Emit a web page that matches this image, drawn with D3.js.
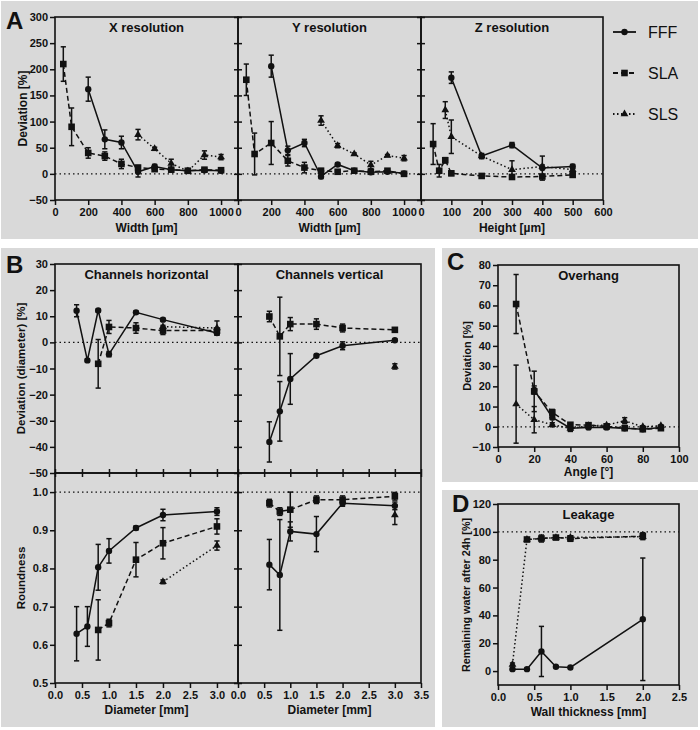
<!DOCTYPE html>
<html><head><meta charset="utf-8">
<script src="https://cdn.jsdelivr.net/npm/d3@7"></script>
<style>
body{margin:0;background:#fff}
text{font-family:"Liberation Sans",Arial,sans-serif;fill:#111}
</style>
</head><body><svg id="c" width="700" height="730"></svg>
<script>
// ---------------- DATA ----------------
const seriesNames = ["FFF", "SLA", "SLS"];
// each row: [x, mean, error]
// A: X resolution (width µm, deviation %)
const xResFFF = [[200,162,23],[300,66,18],[400,60,12],[500,4,10],[600,14,4],[700,8,3],[800,6,3],[900,7,3],[1000,6,2]];
const xResSLA = [[50,210,33],[100,90,36],[200,40,10],[300,34,8],[400,19,9],[500,12,4],[600,9,3],[700,8,3],[800,6,3],[900,8,3],[1000,7,2]];
const xResSLS = [[500,75,10],[600,48,3],[700,20,8],[800,5,4],[900,36,8],[1000,32,5]];
// A: Y resolution
const yResFFF = [[200,206,21],[300,45,8],[400,59,7],[500,-5,4],[600,18,3],[700,6,3],[800,3,2],[900,4,2],[1000,1,2]];
const yResSLA = [[50,180,30],[100,38,40],[200,59,41],[300,25,10],[400,12,10],[500,6,4],[600,4,2],[700,6,3],[800,4,2],[900,6,3],[1000,0,3]];
const yResSLS = [[500,102,9],[600,54,4],[700,38,2],[800,17,7],[900,35,2],[1000,30,5]];
// A: Z resolution (height µm)
const zResFFF = [[100,184,11],[200,34,5],[300,55,5],[400,11,23],[500,14,4]];
const zResSLA = [[40,57,39],[60,6,12],[80,26,5],[100,1,4],[200,-4,2],[300,-6,2],[400,-5,2],[500,-2,4]];
const zResSLS = [[80,122,16],[100,71,32],[200,34,4],[300,8,17],[400,14,3],[500,8,2]];
// B: channels horizontal, deviation (diameter) %
const hDevFFF = [[0.4,12.1,2.3],[0.6,-6.9,0.5],[0.8,12.2,0.5],[1.0,-4.5,1],[1.5,11.5,0.5],[2.0,8.7,0.5],[3.0,3.6,0.8]];
const hDevSLA = [[0.8,-8.2,9.3],[1.0,5.9,2.5],[1.5,5.5,2],[2.0,4.5,1.5],[3.0,4.5,1]];
const hDevSLS = [[2.0,6,0.5],[3.0,5.5,2.7]];
// B: channels vertical, deviation
const vDevFFF = [[0.6,-38.1,7.7],[0.8,-26.4,11.4],[1.0,-14.0,9.7],[1.5,-5.1,0.5],[2.0,-1.3,1.5],[3.0,0.8,0.5]];
const vDevSLA = [[0.6,9.9,2],[0.8,2.3,15],[1.0,7.0,2.5],[1.5,7.0,2],[2.0,5.5,1.5],[3.0,4.8,0.5]];
const vDevSLS = [[3.0,-9.2,1]];
// B: roundness horizontal
const hRndFFF = [[0.4,0.629,0.071],[0.6,0.648,0.052],[0.8,0.803,0.06],[1.0,0.846,0.032],[1.5,0.906,0.005],[2.0,0.940,0.015],[3.0,0.949,0.01]];
const hRndSLA = [[0.8,0.639,0.079],[1.0,0.657,0.01],[1.5,0.823,0.045],[2.0,0.866,0.041],[3.0,0.910,0.02]];
const hRndSLS = [[2.0,0.765,0.005],[3.0,0.860,0.012]];
// B: roundness vertical
const vRndFFF = [[0.6,0.810,0.066],[0.8,0.783,0.145],[1.0,0.897,0.025],[1.5,0.890,0.046],[2.0,0.971,0.008],[3.0,0.964,0.01]];
const vRndSLA = [[0.6,0.971,0.01],[0.8,0.949,0.01],[1.0,0.954,0.046],[1.5,0.980,0.01],[2.0,0.980,0.01],[3.0,0.989,0.01]];
const vRndSLS = [[3.0,0.940,0.025]];
// C: overhang (angle °, deviation %)
const ovhFFF = [[20,18.2,2],[30,4.6,1],[40,-0.7,1.5],[50,-0.3,1],[60,-0.3,1],[70,-0.7,1],[80,-1.2,1],[90,-0.3,1]];
const ovhSLA = [[10,60.7,14.6],[20,17.5,10],[30,7.1,1.5],[40,1.0,1],[50,0.8,1],[60,0.2,1],[70,-0.7,1],[80,-1.2,1],[90,-0.7,1]];
const ovhSLS = [[10,11.2,19.3],[20,3.5,6.5],[30,1.0,1],[40,-0.8,1.5],[50,0.5,1],[60,0.8,0.5],[70,3.0,1.5],[80,0,0.5],[90,0.5,0.5]];
// D: leakage (wall thickness mm, remaining water %)
const leakFFF = [[0.2,1.4,0.5],[0.4,1.4,0.5],[0.6,14.1,18],[0.8,3.1,0.5],[1.0,2.6,0.5],[2.0,37.2,44]];
const leakSLA = [[0.4,94.5,1],[0.6,95.2,2.5],[0.8,95.9,1],[1.0,95.2,2],[2.0,96.9,2.5]];
const leakSLS = [[0.2,4.8,1],[0.4,94.5,1],[0.6,95.5,1],[0.8,95.7,1],[1.0,96,1],[2.0,96.5,1]];

// tick values
const aYTicks = [-50,0,50,100,150,200,250,300];
const aWidthTicks = [0,200,400,600,800,1000];
const aHeightTicks = [0,100,200,300,400,500,600];
const bDevTicks = [-50,-40,-30,-20,-10,0,10,20,30];
const bRndTicks = [0.5,0.6,0.7,0.8,0.9,1.0];
const bDiamTicksL = [0,0.5,1,1.5,2,2.5,3];
const bDiamTicksR = [0,0.5,1,1.5,2,2.5,3,3.5];
const cAngleTicks = [0,20,40,60,80,100];
const cDevTicks = [-10,0,10,20,30,40,50,60,70,80];
const dWallTicks = [0,0.5,1,1.5,2,2.5];
const dWaterTicks = [0,20,40,60,80,100,120];

// ---------------- DRAWING ----------------
const svg = d3.select("#c");
const INK = "#111";
const GREY = "#d9d9d9";
const styles = {
  FFF: {dash: null, shape: "circle"},
  SLA: {dash: "5,3", shape: "square"},
  SLS: {dash: "1.5,2.5", shape: "triangle"}
};

// panel backgrounds
[[1,1,697,238],[1,248,434,479],[442,248,256,234],[442,490,256,237]].forEach(r => {
  svg.append("rect").attr("x", r[0]).attr("y", r[1]).attr("width", r[2]).attr("height", r[3]).attr("fill", GREY);
});

function marker(g, shape, cx, cy) {
  if (shape === "circle") {
    g.append("circle").attr("cx", cx).attr("cy", cy).attr("r", 3.2).attr("fill", INK);
  } else if (shape === "square") {
    g.append("rect").attr("x", cx - 3.3).attr("y", cy - 3.3).attr("width", 6.6).attr("height", 6.6).attr("fill", INK);
  } else {
    const s = d3.symbol().type(d3.symbolTriangle).size(26);
    g.append("path").attr("d", s()).attr("transform", `translate(${cx},${cy})`).attr("fill", INK);
  }
}

function axisStyle(sel) {
  sel.select(".domain").remove();
  sel.selectAll("line").attr("stroke", INK).attr("stroke-width", 1.5);
  sel.selectAll("text").attr("font-size", 11).attr("font-weight", "bold").attr("fill", INK)
     .style("font-family", '"Liberation Sans",Arial,sans-serif');
}

function plot(cfg) {
  const x = d3.scaleLinear().domain(cfg.xd).range([cfg.x0, cfg.x1]);
  const y = d3.scaleLinear().domain(cfg.yd).range([cfg.y1, cfg.y0]);
  const g = svg.append("g");

  if (cfg.ref !== undefined) {
    g.append("line").attr("x1", cfg.x0).attr("x2", cfg.x1).attr("y1", y(cfg.ref)).attr("y2", y(cfg.ref))
      .attr("stroke", INK).attr("stroke-width", 1.3).attr("stroke-dasharray", "1.5,3");
  }

  if (cfg.left === "out") {
    const a = g.append("g").attr("transform", `translate(${cfg.x0},0)`)
      .call(d3.axisLeft(y).tickValues(cfg.yTicks).tickSize(5).tickPadding(2).tickFormat(cfg.yFmt || d3.format("d")));
    axisStyle(a);
  } else if (cfg.left === "cross") {
    const a = g.append("g").attr("transform", `translate(${cfg.x0},0)`)
      .call(d3.axisLeft(y).tickValues(cfg.yTicks).tickSize(4).tickFormat(""));
    axisStyle(a);
    const b = g.append("g").attr("transform", `translate(${cfg.x0},0)`)
      .call(d3.axisRight(y).tickValues(cfg.yTicks).tickSize(4).tickFormat(""));
    axisStyle(b);
  }
  if (cfg.bottom === "out") {
    const a = g.append("g").attr("transform", `translate(0,${cfg.y1})`)
      .call(d3.axisBottom(x).tickValues(cfg.xTicks).tickSize(5).tickPadding(3).tickFormat(cfg.xFmt || d3.format("d")));
    axisStyle(a);
  } else if (cfg.bottom === "cross") {
    const a = g.append("g").attr("transform", `translate(0,${cfg.y1})`)
      .call(d3.axisBottom(x).tickValues(cfg.xTicks).tickSize(4).tickFormat(""));
    axisStyle(a);
    const b = g.append("g").attr("transform", `translate(0,${cfg.y1})`)
      .call(d3.axisTop(x).tickValues(cfg.xTicks).tickSize(4).tickFormat(""));
    axisStyle(b);
  }

  g.append("rect").attr("x", cfg.x0).attr("y", cfg.y0).attr("width", cfg.x1 - cfg.x0).attr("height", cfg.y1 - cfg.y0)
    .attr("fill", "none").attr("stroke", INK).attr("stroke-width", 1.6);

  const line = d3.line().x(d => x(d[0])).y(d => y(d[1]));
  cfg.series.forEach((data, i) => {
    const st = styles[seriesNames[i]];
    if (data.length > 1) {
      g.append("path").attr("d", line(data)).attr("fill", "none").attr("stroke", INK)
        .attr("stroke-width", 1.5).attr("stroke-dasharray", st.dash);
    }
  });
  cfg.series.forEach((data, i) => {
    const st = styles[seriesNames[i]];
    data.forEach(d => {
      const cx = x(d[0]);
      const ya = y(d[1] + d[2]), yb = y(d[1] - d[2]);
      g.append("line").attr("x1", cx).attr("x2", cx).attr("y1", ya).attr("y2", yb).attr("stroke", INK).attr("stroke-width", 1.5);
      [ya, yb].forEach(yy => g.append("line").attr("x1", cx - 2.6).attr("x2", cx + 2.6).attr("y1", yy).attr("y2", yy)
        .attr("stroke", INK).attr("stroke-width", 1.5));
      marker(g, st.shape, cx, y(d[1]));
    });
  });

  if (cfg.title) {
    g.append("text").attr("x", (cfg.x0 + cfg.x1) / 2).attr("y", cfg.y0 + 15).attr("text-anchor", "middle")
      .attr("font-size", 13).attr("font-weight", "bold").text(cfg.title);
  }
  if (cfg.xLabel) {
    g.append("text").attr("x", (cfg.x0 + cfg.x1) / 2).attr("y", cfg.xLabelY).attr("text-anchor", "middle")
      .attr("font-size", 12).attr("font-weight", "bold").text(cfg.xLabel);
  }
  if (cfg.yLabel) {
    const cy = (cfg.y0 + cfg.y1) / 2;
    g.append("text").attr("transform", `translate(${cfg.yLabelX},${cfg.yLabelCY || cy}) rotate(-90)`)
      .attr("text-anchor", "middle").attr("font-size", cfg.yLabelSize || 12).attr("font-weight", "bold").text(cfg.yLabel);
  }
  return {x, y};
}

// ---- Panel A ----
plot({x0:55, x1:238, y0:17, y1:200, xd:[0,1102], yd:[-50,300], series:[xResFFF,xResSLA,xResSLS],
  xTicks:aWidthTicks, yTicks:aYTicks, left:"out", bottom:"out", ref:0, title:"X resolution",
  xLabel:"Width [µm]", xLabelY:232, yLabel:"Deviation [%]", yLabelX:27});
plot({x0:238, x1:421, y0:17, y1:200, xd:[0,1102], yd:[-50,300], series:[yResFFF,yResSLA,yResSLS],
  xTicks:aWidthTicks, yTicks:aYTicks, left:"cross", bottom:"out", ref:0, title:"Y resolution",
  xLabel:"Width [µm]", xLabelY:232});
plot({x0:421, x1:603, y0:17, y1:200, xd:[0,600], yd:[-50,300], series:[zResFFF,zResSLA,zResSLS],
  xTicks:aHeightTicks, yTicks:aYTicks, left:"cross", bottom:"out", ref:0, title:"Z resolution",
  xLabel:"Height [µm]", xLabelY:232});

// legend
seriesNames.forEach((name, i) => {
  const yy = [32, 73, 114][i];
  const st = styles[name];
  const lg = svg.append("g");
  lg.append("line").attr("x1", 613).attr("x2", 636).attr("y1", yy).attr("y2", yy).attr("stroke", INK)
    .attr("stroke-width", 1.8).attr("stroke-dasharray", st.dash);
  marker(lg, st.shape, 624.5, yy);
  lg.append("text").attr("x", 648).attr("y", yy + 5.5).attr("font-size", 16).text(name);
});

// ---- Panel B ----
const f1 = d3.format(".1f");
plot({x0:55, x1:238, y0:264, y1:473, xd:[0,3.39], yd:[-50,30], series:[hDevFFF,hDevSLA,hDevSLS],
  xTicks:bDiamTicksL, yTicks:bDevTicks, left:"out", bottom:"cross", ref:0, title:"Channels horizontal",
  yLabel:"Deviation (diameter) [%]", yLabelX:25, yLabelSize:11.5});
plot({x0:238, x1:421, y0:264, y1:473, xd:[0,3.5], yd:[-50,30], series:[vDevFFF,vDevSLA,vDevSLS],
  xTicks:bDiamTicksR, yTicks:bDevTicks, left:"cross", bottom:"cross", ref:0, title:"Channels vertical"});
plot({x0:55, x1:238, y0:473, y1:683, xd:[0,3.39], yd:[0.5,1.05], series:[hRndFFF,hRndSLA,hRndSLS],
  xTicks:bDiamTicksL, yTicks:bRndTicks, xFmt:f1, yFmt:f1, left:"out", bottom:"out", ref:1.0,
  xLabel:"Diameter [mm]", xLabelY:714, yLabel:"Roundness", yLabelX:25, yLabelSize:11.5});
plot({x0:238, x1:421, y0:473, y1:683, xd:[0,3.5], yd:[0.5,1.05], series:[vRndFFF,vRndSLA,vRndSLS],
  xTicks:bDiamTicksR, yTicks:bRndTicks, xFmt:f1, left:"cross", bottom:"out", ref:1.0,
  xLabel:"Diameter [mm]", xLabelY:714});

// ---- Panel C ----
plot({x0:498, x1:679, y0:265, y1:447, xd:[0,100], yd:[-10,80], series:[ovhFFF,ovhSLA,ovhSLS],
  xTicks:cAngleTicks, yTicks:cDevTicks, left:"out", bottom:"out", ref:0, title:"Overhang",
  xLabel:"Angle [°]", xLabelY:476, yLabel:"Deviation [%]", yLabelX:471, yLabelSize:11});

// ---- Panel D ----
plot({x0:498, x1:679, y0:504, y1:685, xd:[0,2.5], yd:[-10,120], series:[leakFFF,leakSLA,leakSLS],
  xTicks:dWallTicks, yTicks:dWaterTicks, xFmt:f1, left:"out", bottom:"out", ref:100, title:"Leakage",
  xLabel:"Wall thickness [mm]", xLabelY:716, yLabel:"Remaining water after 24h [%]", yLabelX:470,
  yLabelCY:595, yLabelSize:10.8});

// panel letters
[["A",6,29],["B",6,273],["C",447,270],["D",452,512]].forEach(l => {
  svg.append("text").attr("x", l[1]).attr("y", l[2]).attr("font-size", 24).attr("font-weight", "bold").text(l[0]);
});
</script>
</body></html>
